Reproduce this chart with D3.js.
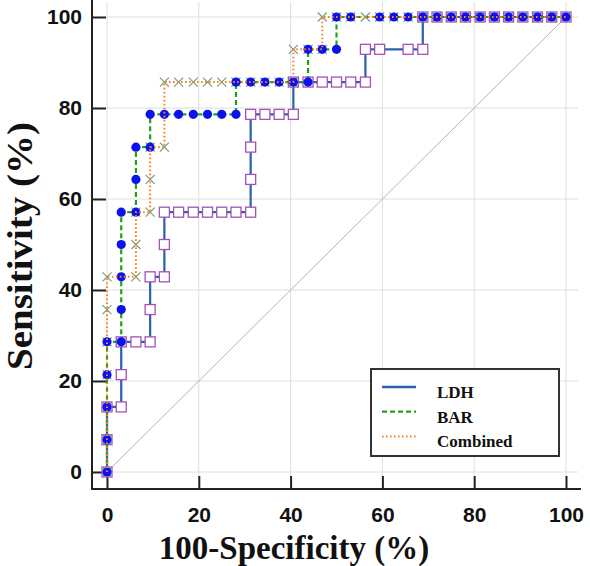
<!DOCTYPE html>
<html lang="en">
<head>
<meta charset="UTF-8" />
<title>ROC curves - LDH, BAR, Combined</title>
<script src="https://d3js.org/d3.v7.min.js"></script>
<style>
  body { margin: 0; background: #fff; }
  .tick text { font-family: "Liberation Sans", Arial, sans-serif; font-weight: bold; font-size: 21px; fill: #111; }
  .axis-title { font-family: "Liberation Serif", "Times New Roman", serif; font-weight: bold; fill: #111; }
  .legend-text { font-family: "Liberation Serif", "Times New Roman", serif; font-weight: bold; font-size: 17px; fill: #111; }
</style>
</head>
<body>
<svg id="chart" width="590" height="566"></svg>
<script>
// tick values for both axes
const tickValues = [0, 20, 40, 60, 80, 100];
const seriesNames = ["LDH", "BAR", "Combined"];

// ROC points [100-specificity %, sensitivity %]
const ldh = [
  [0, 0], [0, 7.1], [0, 14.3], [3.1, 14.3], [3.1, 21.4], [3.1, 28.6], [6.3, 28.6],
  [9.4, 28.6], [9.4, 35.7], [9.4, 42.9], [12.5, 42.9], [12.5, 50], [12.5, 57.1],
  [15.6, 57.1], [18.8, 57.1], [21.9, 57.1], [25, 57.1], [28.1, 57.1], [31.3, 57.1],
  [31.3, 64.3], [31.3, 71.4], [31.3, 78.6], [34.4, 78.6], [37.5, 78.6], [40.6, 78.6],
  [40.6, 85.7], [43.8, 85.7], [46.9, 85.7], [50, 85.7], [53.1, 85.7], [56.3, 85.7],
  [56.3, 92.9], [59.4, 92.9], [65.6, 92.9], [68.8, 92.9], [68.8, 100], [71.9, 100],
  [75, 100], [78.1, 100], [81.3, 100], [84.4, 100], [87.5, 100], [90.6, 100],
  [93.8, 100], [96.9, 100], [100, 100]
];
const bar = [
  [0, 0], [0, 7.1], [0, 14.3], [0, 21.4], [0, 28.6], [3.1, 28.6], [3.1, 35.7],
  [3.1, 42.9], [3.1, 50], [3.1, 57.1], [6.3, 57.1], [6.3, 64.3], [6.3, 71.4],
  [9.4, 71.4], [9.4, 78.6], [12.5, 78.6], [15.6, 78.6], [18.8, 78.6], [21.9, 78.6],
  [25, 78.6], [28.1, 78.6], [28.1, 85.7], [31.3, 85.7], [34.4, 85.7], [37.5, 85.7],
  [40.6, 85.7], [43.8, 85.7], [43.8, 92.9], [46.9, 92.9], [50, 92.9], [50, 100],
  [53.1, 100], [59.4, 100], [62.5, 100], [65.6, 100], [68.8, 100], [71.9, 100],
  [75, 100], [78.1, 100], [81.3, 100], [84.4, 100], [87.5, 100], [90.6, 100],
  [93.8, 100], [96.9, 100], [100, 100]
];
const combined = [
  [0, 0], [0, 7.1], [0, 14.3], [0, 21.4], [0, 28.6], [0, 35.7], [0, 42.9],
  [6.3, 42.9], [6.3, 50], [6.3, 57.1], [9.4, 57.1], [9.4, 64.3], [9.4, 71.4],
  [12.5, 71.4], [12.5, 85.7], [15.6, 85.7], [18.8, 85.7], [21.9, 85.7], [25, 85.7],
  [28.1, 85.7], [31.3, 85.7], [34.4, 85.7], [37.5, 85.7], [40.6, 85.7], [40.6, 92.9],
  [43.8, 92.9], [46.9, 92.9], [46.9, 100], [50, 100], [53.1, 100], [56.3, 100],
  [59.4, 100], [62.5, 100], [65.6, 100], [68.8, 100], [71.9, 100], [75, 100],
  [78.1, 100], [81.3, 100], [84.4, 100], [87.5, 100], [90.6, 100], [93.8, 100],
  [96.9, 100], [100, 100]
];

const svg = d3.select("#chart");
const x = d3.scaleLinear().domain([0, 100]).range([107, 566]);
const y = d3.scaleLinear().domain([0, 100]).range([472, 17]);

const axisX = 92, axisY = 489, plotTop = 2, plotRight = 578;

// grid
const grid = svg.append("g").attr("stroke", "#dedede").attr("stroke-width", 1);
grid.selectAll(".gv").data(tickValues).enter().append("line")
  .attr("x1", d => x(d)).attr("x2", d => x(d))
  .attr("y1", plotTop).attr("y2", axisY);
grid.selectAll(".gh").data(tickValues).enter().append("line")
  .attr("x1", axisX).attr("x2", plotRight)
  .attr("y1", d => y(d)).attr("y2", d => y(d));

// reference diagonal
svg.append("line")
  .attr("x1", x(0)).attr("y1", y(0)).attr("x2", x(100)).attr("y2", y(100))
  .attr("stroke", "#cbaab3").attr("stroke-width", 1);

// axes with inward ticks
const yAxis = svg.append("g").attr("transform", `translate(${axisX},0)`)
  .call(d3.axisLeft(y).tickValues(tickValues).tickSize(-14).tickPadding(10));
const xAxis = svg.append("g").attr("transform", `translate(0,${axisY})`)
  .call(d3.axisBottom(x).tickValues(tickValues).tickSize(-13).tickPadding(18));
[yAxis, xAxis].forEach(g => {
  g.select(".domain").remove();
  g.selectAll(".tick line").attr("stroke", "#222").attr("stroke-width", 2);
});
svg.append("line").attr("x1", axisX).attr("x2", axisX).attr("y1", 0).attr("y2", axisY + 1)
  .attr("stroke", "#222").attr("stroke-width", 2);
svg.append("line").attr("x1", axisX - 1).attr("x2", 581).attr("y1", axisY).attr("y2", axisY)
  .attr("stroke", "#222").attr("stroke-width", 2);

// axis titles
svg.append("text").attr("class", "axis-title")
  .attr("x", 294).attr("y", 559).attr("text-anchor", "middle")
  .attr("font-size", 33).text("100-Specificity (%)");
svg.append("text").attr("class", "axis-title")
  .attr("transform", "translate(32,246) rotate(-90)").attr("text-anchor", "middle")
  .attr("font-size", 35).attr("textLength", 248).attr("lengthAdjust", "spacingAndGlyphs")
  .text("Sensitivity (%)");

const line = d3.line().x(d => x(d[0])).y(d => y(d[1]));

const ldhColor = "#2b62ad", barColor = "#20a020", combColor = "#f58226";

// LDH
svg.append("path").datum(ldh).attr("d", line).attr("fill", "none")
  .attr("stroke", ldhColor).attr("stroke-width", 2.2);
svg.append("g").selectAll("rect").data(ldh).enter().append("rect")
  .attr("x", d => x(d[0]) - 5).attr("y", d => y(d[1]) - 5)
  .attr("width", 10).attr("height", 10)
  .attr("fill", "#fff").attr("stroke", "#a452b4").attr("stroke-width", 1.3);

// BAR line
svg.append("path").datum(bar).attr("d", line).attr("fill", "none")
  .attr("stroke", barColor).attr("stroke-width", 2.2).attr("stroke-dasharray", "5,3");

// Combined markers (x)
const cross = svg.append("g").attr("stroke", "#7c9c78").attr("stroke-width", 1.2);
cross.selectAll(".c1").data(combined).enter().append("path")
  .attr("d", d => {
    const cx = x(d[0]), cy = y(d[1]), s = 4.5;
    return `M${cx - s},${cy - s}L${cx + s},${cy + s}M${cx - s},${cy + s}L${cx + s},${cy - s}`;
  });

// BAR markers
svg.append("g").selectAll("circle").data(bar).enter().append("circle")
  .attr("cx", d => x(d[0])).attr("cy", d => y(d[1])).attr("r", 4.6)
  .attr("fill", "#0c12ee");

// Combined line
svg.append("path").datum(combined).attr("d", line).attr("fill", "none")
  .attr("stroke", combColor).attr("stroke-width", 2).attr("stroke-dasharray", "1.6,2.4");

// legend
const legend = svg.append("g");
legend.append("rect").attr("x", 371).attr("y", 369).attr("width", 188).attr("height", 87)
  .attr("fill", "#fff").attr("stroke", "#333").attr("stroke-width", 2);
const legendStyles = [
  { color: ldhColor, dash: null, w: 2.6 },
  { color: barColor, dash: "5,3", w: 2.2 },
  { color: combColor, dash: "1.6,2.4", w: 2 }
];
seriesNames.forEach((name, i) => {
  const ly = 387 + i * 24.7;
  legend.append("line").attr("x1", 382).attr("x2", 416).attr("y1", ly).attr("y2", ly)
    .attr("stroke", legendStyles[i].color).attr("stroke-width", legendStyles[i].w)
    .attr("stroke-dasharray", legendStyles[i].dash);
  legend.append("text").attr("class", "legend-text")
    .attr("x", 437).attr("y", ly + 11).text(name);
});
</script>
</body>
</html>
